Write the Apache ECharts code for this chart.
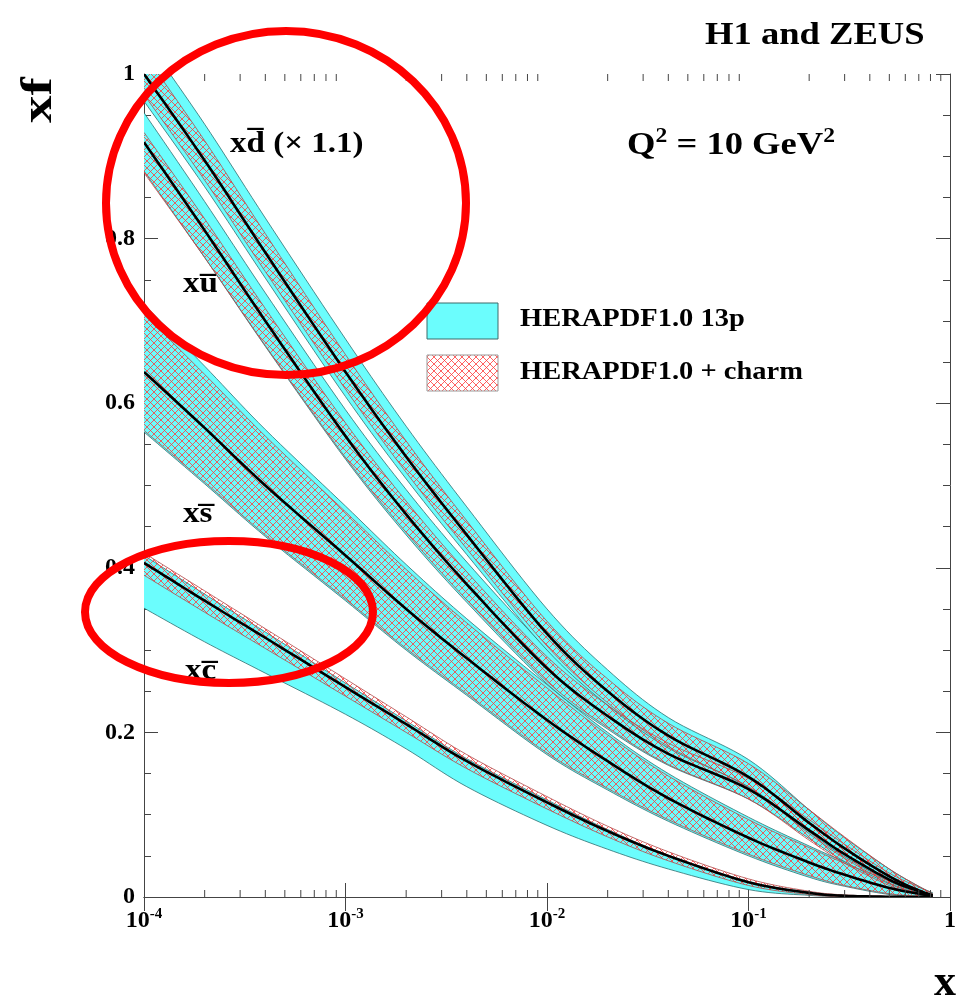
<!DOCTYPE html>
<html>
<head>
<meta charset="utf-8">
<script src="https://cdn.jsdelivr.net/npm/echarts@6/dist/echarts.min.js"></script>
<style>
  html, body { margin: 0; padding: 0; background: #fff; }
  #chart { width: 972px; height: 998px; }
</style>
</head>
<body>
<div id="chart"></div>
<script>
// Sea-quark distributions xf(x) at Q^2 = 10 GeV^2
const xGrid = [1e-4, 2e-4, 4e-4, 1e-3, 2e-3, 4e-3, 1e-2, 2e-2, 4e-2, 0.1, 0.2, 0.3, 0.5, 0.7, 0.82];

// x dbar (scaled by 1.1)
const dbarCentral = [1.000, 0.895, 0.783, 0.638, 0.535, 0.440, 0.320, 0.250, 0.196, 0.146, 0.090, 0.059, 0.025, 0.008, 0.002];
const dbar13pLo   = [0.967, 0.863, 0.752, 0.608, 0.508, 0.416, 0.300, 0.233, 0.181, 0.134, 0.079, 0.049, 0.019, 0.005, 0.001];
const dbar13pHi   = [1.045, 0.939, 0.825, 0.678, 0.572, 0.474, 0.350, 0.276, 0.218, 0.167, 0.106, 0.072, 0.034, 0.013, 0.005];
const dbarCharmLo = [0.975, 0.871, 0.760, 0.617, 0.516, 0.423, 0.305, 0.236, 0.183, 0.133, 0.077, 0.047, 0.017, 0.004, 0.001];
const dbarCharmHi = [1.025, 0.919, 0.806, 0.659, 0.554, 0.457, 0.335, 0.265, 0.211, 0.162, 0.106, 0.073, 0.034, 0.013, 0.004];

// x ubar
const ubarCentral = [0.917, 0.810, 0.700, 0.560, 0.465, 0.380, 0.278, 0.220, 0.174, 0.131, 0.081, 0.052, 0.021, 0.007, 0.002];
const ubar13pLo   = [0.882, 0.777, 0.669, 0.532, 0.440, 0.358, 0.259, 0.204, 0.160, 0.119, 0.071, 0.043, 0.016, 0.004, 0.001];
const ubar13pHi   = [0.953, 0.845, 0.734, 0.592, 0.495, 0.407, 0.302, 0.241, 0.192, 0.147, 0.095, 0.064, 0.029, 0.012, 0.005];
const ubarCharmLo = [0.880, 0.777, 0.670, 0.534, 0.443, 0.361, 0.262, 0.206, 0.161, 0.119, 0.069, 0.041, 0.014, 0.003, 0.001];
const ubarCharmHi = [0.929, 0.824, 0.715, 0.576, 0.481, 0.395, 0.292, 0.233, 0.187, 0.144, 0.094, 0.064, 0.029, 0.012, 0.004];

// x sbar
const sbarCentral = [0.638, 0.570, 0.500, 0.415, 0.350, 0.290, 0.215, 0.165, 0.120, 0.072, 0.042, 0.027, 0.011, 0.004, 0.001];
const sbar13pLo   = [0.565, 0.502, 0.438, 0.360, 0.300, 0.245, 0.173, 0.130, 0.092, 0.050, 0.024, 0.013, 0.003, 0.001, 0.000];
const sbar13pHi   = [0.720, 0.645, 0.568, 0.475, 0.404, 0.338, 0.258, 0.200, 0.150, 0.097, 0.062, 0.043, 0.021, 0.009, 0.003];
const sbarCharmLo = [0.567, 0.504, 0.440, 0.362, 0.302, 0.247, 0.175, 0.132, 0.094, 0.052, 0.026, 0.014, 0.004, 0.001, 0.000];
const sbarCharmHi = [0.708, 0.635, 0.560, 0.468, 0.398, 0.333, 0.254, 0.197, 0.147, 0.094, 0.060, 0.041, 0.020, 0.008, 0.002];

// x cbar
const cbarCentral = [0.406, 0.360, 0.315, 0.255, 0.210, 0.165, 0.115, 0.080, 0.050, 0.018, 0.005, 0.0015, 0.0003, 0.0, 0.0];
const cbar13pLo   = [0.351, 0.310, 0.272, 0.222, 0.180, 0.134, 0.087, 0.058, 0.034, 0.009, 0.002, 0.0005, 0.0, 0.0, 0.0];
const cbar13pHi   = [0.415, 0.368, 0.322, 0.260, 0.214, 0.168, 0.118, 0.082, 0.051, 0.019, 0.006, 0.002, 0.0005, 0.0, 0.0];
const cbarCharmLo = [0.391, 0.346, 0.302, 0.244, 0.200, 0.156, 0.107, 0.073, 0.044, 0.014, 0.003, 0.0005, 0.0003, 0.0, 0.0];
const cbarCharmHi = [0.418, 0.372, 0.326, 0.265, 0.219, 0.173, 0.122, 0.086, 0.055, 0.022, 0.007, 0.0025, 0.0008, 0.0, 0.0];

// axis ticks
const xMinorTicks = [];
for (let e = -4; e < 0; e++) {
  for (let m = 2; m <= 9; m++) xMinorTicks.push(m * Math.pow(10, e));
}
const yTickLabels = ['0', '0.2', '0.4', '0.6', '0.8', '1'];

const SERIF = "'Liberation Serif', 'Times New Roman', serif";
const CYAN = '#6bfdfd';
const CYAN_EDGE = '#2f6f70';
const HATCH_EDGE = '#b04a4a';

// red cross-hatch tile
function makeHatch() {
  const c = document.createElement('canvas');
  const s = 7;
  c.width = s; c.height = s;
  const g = c.getContext('2d');
  g.strokeStyle = '#ff3a3a';
  g.lineWidth = 0.8;
  g.beginPath();
  g.moveTo(0, 0); g.lineTo(s, s);
  g.moveTo(s, 0); g.lineTo(0, s);
  g.stroke();
  return c;
}
const hatchPattern = { image: makeHatch(), repeat: 'repeat' };

// Catmull-Rom curve through pixel points, sampled for drawing
function spline(pts, steps) {
  const out = [];
  const n = pts.length;
  for (let i = 0; i < n - 1; i++) {
    const p0 = pts[Math.max(i - 1, 0)], p1 = pts[i], p2 = pts[i + 1], p3 = pts[Math.min(i + 2, n - 1)];
    for (let k = 0; k < steps; k++) {
      const t = k / steps, t2 = t * t, t3 = t2 * t;
      const f = (a, b, c, d) => 0.5 * ((2 * b) + (-a + c) * t + (2 * a - 5 * b + 4 * c - d) * t2 + (-a + 3 * b - 3 * c + d) * t3);
      out.push([f(p0[0], p1[0], p2[0], p3[0]), f(p0[1], p1[1], p2[1], p3[1])]);
    }
  }
  out.push(pts[n - 1].slice());
  return out;
}

function clipRect(params) {
  const cs = params.coordSys;
  return { type: 'rect', shape: { x: cs.x, y: cs.y, width: cs.width, height: cs.height } };
}

function bandSeries(lo, hi, fill, edge) {
  return {
    type: 'custom', silent: true,
    data: xGrid.map((x, i) => [x, lo[i], hi[i]]),
    encode: { x: 0, y: [1, 2] },
    renderItem: function (params, api) {
      if (params.dataIndexInside !== 0) return null;
      const n = params.dataInsideLength;
      const up = [], dn = [];
      for (let i = 0; i < n; i++) {
        const x = api.value(0, i);
        dn.push(api.coord([x, api.value(1, i)]));
        up.push(api.coord([x, api.value(2, i)]));
      }
      const upS = spline(up, 10), dnS = spline(dn, 10);
      const poly = upS.concat(dnS.slice().reverse());
      return {
        type: 'group',
        clipPath: clipRect(params),
        children: [
          { type: 'polygon', shape: { points: poly }, style: { fill: fill, stroke: null } },
          { type: 'polyline', shape: { points: upS }, style: { fill: null, stroke: edge, lineWidth: 0.8 } },
          { type: 'polyline', shape: { points: dnS }, style: { fill: null, stroke: edge, lineWidth: 0.8 } }
        ]
      };
    }
  };
}

function centralSeries(arr) {
  return {
    type: 'custom', silent: true,
    data: xGrid.map((x, i) => [x, arr[i]]),
    encode: { x: 0, y: 1 },
    renderItem: function (params, api) {
      if (params.dataIndexInside !== 0) return null;
      const n = params.dataInsideLength;
      const pts = [];
      for (let i = 0; i < n; i++) pts.push(api.coord([api.value(0, i), api.value(1, i)]));
      return {
        type: 'group',
        clipPath: clipRect(params),
        children: [
          { type: 'polyline', shape: { points: spline(pts, 10) }, style: { fill: null, stroke: '#000', lineWidth: 2.6 } }
        ]
      };
    }
  };
}

const series = [
  bandSeries(cbar13pLo, cbar13pHi, CYAN, CYAN_EDGE),
  bandSeries(sbar13pLo, sbar13pHi, CYAN, CYAN_EDGE),
  bandSeries(ubar13pLo, ubar13pHi, CYAN, CYAN_EDGE),
  bandSeries(dbar13pLo, dbar13pHi, CYAN, CYAN_EDGE),
  bandSeries(cbarCharmLo, cbarCharmHi, hatchPattern, HATCH_EDGE),
  bandSeries(sbarCharmLo, sbarCharmHi, hatchPattern, HATCH_EDGE),
  bandSeries(ubarCharmLo, ubarCharmHi, hatchPattern, HATCH_EDGE),
  bandSeries(dbarCharmLo, dbarCharmHi, hatchPattern, HATCH_EDGE),
  centralSeries(cbarCentral),
  centralSeries(sbarCentral),
  centralSeries(ubarCentral),
  centralSeries(dbarCentral)
];

// short minor ticks on the logarithmic axis, bottom and top
series.push({
  type: 'custom',
  silent: true,
  z: 10,
  data: xMinorTicks.map(v => [v, 0]),
  encode: { x: 0, y: 1 },
  renderItem: function (params, api) {
    const v = api.value(0);
    const b = api.coord([v, 0]);
    const t = api.coord([v, 1]);
    const st = { stroke: '#444', lineWidth: 1 };
    return {
      type: 'group',
      children: [
        { type: 'line', shape: { x1: b[0], y1: b[1], x2: b[0], y2: b[1] - 7 }, style: st },
        { type: 'line', shape: { x1: t[0], y1: t[1], x2: t[0], y2: t[1] + 7 }, style: st }
      ]
    };
  }
});

function xLabel(v) {
  const e = Math.round(Math.log10(v));
  if (e === 0) return '{n|1}';
  return '{n|10}{s|' + e + '}';
}

const axisLineStyle = { color: '#444', width: 1 };

const option = {
  animation: false,
  backgroundColor: '#fff',
  grid: { left: 144, right: 22, top: 74, bottom: 101, containLabel: false },
  xAxis: [
    {
      type: 'log', logBase: 10, min: 1e-4, max: 1, position: 'bottom',
      axisLine: { show: true, lineStyle: axisLineStyle },
      axisTick: { show: true, inside: true, length: 14, lineStyle: axisLineStyle },
      minorTick: { show: false },
      splitLine: { show: false },
      axisLabel: {
        margin: 10,
        formatter: xLabel,
        rich: {
          n: { fontFamily: SERIF, fontWeight: 'bold', fontSize: 24, color: '#000', lineHeight: 26, verticalAlign: 'bottom' },
          s: { fontFamily: SERIF, fontWeight: 'bold', fontSize: 15, color: '#000', lineHeight: 14, verticalAlign: 'top' }
        }
      }
    },
    {
      type: 'log', logBase: 10, min: 1e-4, max: 1, position: 'top',
      axisLine: { show: true, lineStyle: axisLineStyle },
      axisTick: { show: true, inside: true, length: 14, lineStyle: axisLineStyle },
      axisLabel: { show: false },
      splitLine: { show: false }
    }
  ],
  yAxis: [
    {
      type: 'value', min: 0, max: 1, interval: 0.2, position: 'left',
      axisLine: { show: true, lineStyle: axisLineStyle },
      axisTick: { show: true, inside: true, length: 14, lineStyle: axisLineStyle },
      minorTick: { show: true, splitNumber: 4, length: 7, lineStyle: axisLineStyle },
      splitLine: { show: false },
      axisLabel: {
        margin: 9,
        fontFamily: SERIF, fontWeight: 'bold', fontSize: 24, color: '#000',
        formatter: function (v) { return yTickLabels[Math.round(v / 0.2)]; }
      }
    },
    {
      type: 'value', min: 0, max: 1, interval: 0.2, position: 'right',
      axisLine: { show: true, lineStyle: axisLineStyle },
      axisTick: { show: true, inside: true, length: 14, lineStyle: axisLineStyle },
      minorTick: { show: true, splitNumber: 4, length: 7, lineStyle: axisLineStyle },
      splitLine: { show: false },
      axisLabel: { show: false }
    }
  ],
  series: series,
  graphic: [
    {
      type: 'text', x: 705, y: 20, scaleX: 1.18,
      style: { text: 'H1 and ZEUS', font: 'bold 31px ' + SERIF, fill: '#000' }
    },
    {
      type: 'text', x: 627, y: 127, scaleX: 1.18,
      style: {
        text: '{b|Q}{s|2}{b| = 10 GeV}{s|2}',
        rich: {
          b: { font: 'bold 31px ' + SERIF, fill: '#000', lineHeight: 34, verticalAlign: 'bottom' },
          s: { font: 'bold 20px ' + SERIF, fill: '#000', lineHeight: 18, verticalAlign: 'top' }
        }
      }
    },
    {
      type: 'text', x: 40, y: 100, rotation: Math.PI / 2, scaleX: 1.25,
      style: { text: 'xf', font: 'bold 44px ' + SERIF, fill: '#000', align: 'center', verticalAlign: 'middle' }
    },
    {
      type: 'text', x: 945, y: 984,
      style: { text: 'x', font: 'bold 44px ' + SERIF, fill: '#000', align: 'center', verticalAlign: 'middle' }
    },
    {
      type: 'text', x: 230, y: 130, scaleX: 1.14,
      style: { text: 'xd\u0305 (\u00d7 1.1)', font: 'bold 29px ' + SERIF, fill: '#000' }
    },
    {
      type: 'text', x: 183, y: 270, scaleX: 1.14,
      style: { text: 'xu\u0305', font: 'bold 29px ' + SERIF, fill: '#000' }
    },
    {
      type: 'text', x: 183, y: 500, scaleX: 1.14,
      style: { text: 'xs\u0305', font: 'bold 29px ' + SERIF, fill: '#000' }
    },
    {
      type: 'text', x: 185, y: 657, scaleX: 1.14,
      style: { text: 'xc\u0305', font: 'bold 29px ' + SERIF, fill: '#000' }
    },
    // legend
    {
      type: 'rect', shape: { x: 427, y: 303, width: 71, height: 36 },
      style: { fill: CYAN, stroke: '#3d6b6b', lineWidth: 1 }
    },
    {
      type: 'rect', shape: { x: 427, y: 355, width: 71, height: 36 },
      style: { fill: hatchPattern, stroke: '#999', lineWidth: 1 }
    },
    {
      type: 'text', x: 520, y: 307, scaleX: 1.14,
      style: { text: 'HERAPDF1.0 13p', font: 'bold 25px ' + SERIF, fill: '#000' }
    },
    {
      type: 'text', x: 520, y: 360, scaleX: 1.14,
      style: { text: 'HERAPDF1.0 + charm', font: 'bold 25px ' + SERIF, fill: '#000' }
    },
    // red highlight rings
    {
      type: 'ellipse', z: 100, shape: { cx: 286, cy: 203, rx: 180, ry: 172 },
      style: { fill: null, stroke: '#ff0000', lineWidth: 8 }
    },
    {
      type: 'ellipse', z: 100, shape: { cx: 229, cy: 612, rx: 144, ry: 71 },
      style: { fill: null, stroke: '#ff0000', lineWidth: 8 }
    }
  ]
};

const chart = echarts.init(document.getElementById('chart'), null, { renderer: 'canvas' });
chart.setOption(option);
</script>
</body>
</html>
